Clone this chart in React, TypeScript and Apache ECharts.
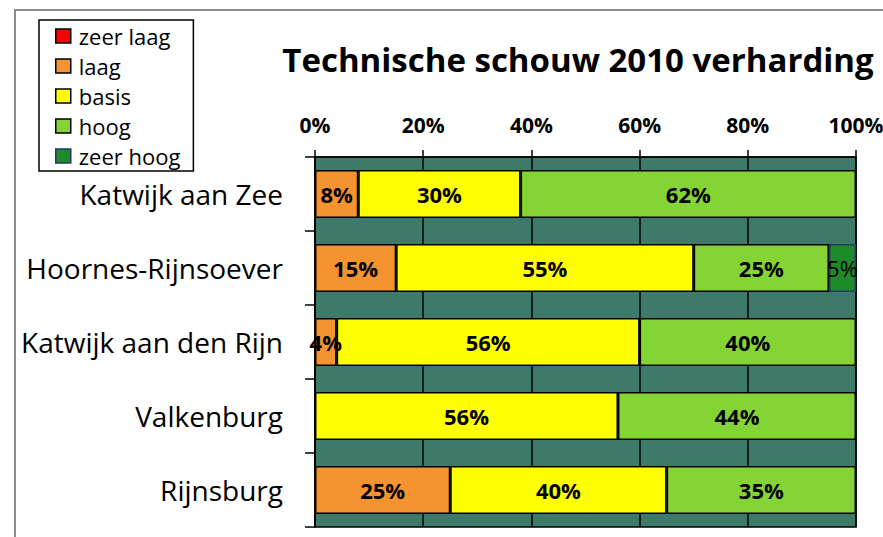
import React, { useEffect, useRef } from "react";
import * as echarts from "echarts";

const categories = ["Katwijk aan Zee", "Hoornes-Rijnsoever", "Katwijk aan den Rijn", "Valkenburg", "Rijnsburg"];
const seriesNames = ["zeer laag", "laag", "basis", "hoog", "zeer hoog"];
const zeerLaag = [0, 0, 0, 0, 0];
const laag = [8, 15, 4, 0, 25];
const basis = [30, 55, 56, 56, 40];
const hoog = [62, 25, 40, 44, 35];
const zeerHoog = [0, 5, 0, 0, 0];
const xTicks = [0, 20, 40, 60, 80, 100];

const colors = ["#ff0000", "#f4932f", "#ffff00", "#85d435", "#1e8a2a"];
const borders = ["#000", "#000", "#000", "#000", "#1f3864"];
const FONT = "'Open Sans', sans-serif";

export default function App() {
  const ref = useRef<HTMLDivElement>(null);
  useEffect(() => {
    if (!ref.current) return;
    const chart = echarts.init(ref.current, null, { renderer: "svg" });
    const values = [zeerLaag, laag, basis, hoog, zeerHoog];
    const series = values.map((arr, i) => ({
      name: seriesNames[i],
      type: "bar",
      stack: "total",
      barCategoryGap: "35%",
      data: arr.map((v) => (v === 0 ? "-" : v)),
      itemStyle: { color: colors[i], borderColor: borders[i], borderWidth: 1.5 },
      label: {
        show: true,
        position: "inside",
        formatter: (p: any) => (p.value ? p.value + "%" : ""),
        color: "#000",
        fontFamily: FONT,
        fontSize: 22,
        fontWeight: i === 4 ? "normal" : "bold",
      },
    }));
    chart.setOption({
      animation: false,
      backgroundColor: "#fff",
      title: {
        text: "Technische schouw 2010 verharding",
        left: 573,
        top: 38,
        textAlign: "center",
        textStyle: { fontFamily: FONT, fontSize: 33, fontWeight: "bold", color: "#000" },
      },
      legend: {
        orient: "vertical",
        left: 39,
        top: 20,
        padding: [5, 13, 4, 16],
        itemGap: 8,
        itemWidth: 15,
        itemHeight: 14,
        icon: "rect",
        borderColor: "#000",
        borderWidth: 1.5,
        data: seriesNames.map((n, i) => ({ name: n, itemStyle: { color: colors[i], borderColor: borders[i], borderWidth: 1.5 } })),
        textStyle: { fontFamily: FONT, fontSize: 22, color: "#000", lineHeight: 22, padding: [0, 0, 0, 3] },
        selectedMode: false,
      },
      grid: {
        left: 315,
        right: 27,
        top: 157,
        bottom: 10,
        outerBoundsMode: "none",
        containLabel: false,
        show: true,
        backgroundColor: "#3e7a6a",
        borderColor: "#000",
        borderWidth: 1.5,
      },
      xAxis: {
        type: "value",
        position: "top",
        min: xTicks[0],
        max: xTicks[xTicks.length - 1],
        interval: xTicks[1] - xTicks[0],
        axisLine: { show: true, lineStyle: { color: "#000", width: 1.5 } },
        axisTick: { show: true, length: 7, lineStyle: { color: "#000", width: 1.5 } },
        splitLine: { show: true, lineStyle: { color: "#000", width: 1.5 } },
        axisLabel: { formatter: "{value}%", fontFamily: FONT, fontSize: 21, fontWeight: "bold", color: "#000", margin: 22, hideOverlap: false },
      },
      yAxis: {
        type: "category",
        inverse: true,
        data: categories,
        axisLine: { show: true, lineStyle: { color: "#000", width: 1.5 } },
        axisTick: { show: true, length: 10, lineStyle: { color: "#000", width: 1.5 } },
        axisLabel: { fontFamily: FONT, fontSize: 28, color: "#000", margin: 32 },
      },
      graphic: [
        {
          type: "rect",
          shape: { x: 15, y: 10, width: 1000, height: 700 },
          style: { fill: "none", stroke: "#8c8c8c", lineWidth: 2 },
          silent: true,
          z: -1,
        },
      ],
      series,
    });
    return () => chart.dispose();
  }, []);
  return <div ref={ref} style={{ position: "fixed", left: 0, top: 0, width: 883, height: 537 }} />;
}
